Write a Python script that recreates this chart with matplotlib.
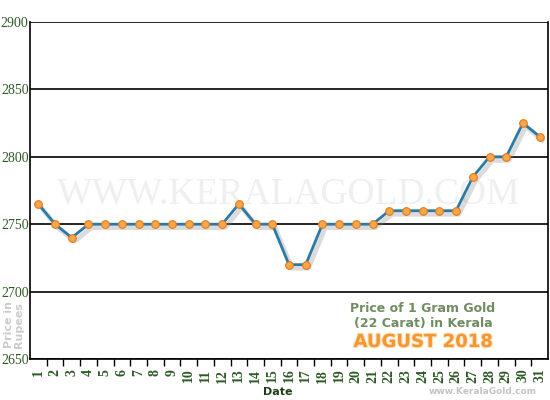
import matplotlib.pyplot as plt
import matplotlib.patheffects as pe

# Kerala gold rate, August 2018 (22 carat, 1 gram)
days = list(range(1, 32))
prices = [2765, 2750, 2740, 2750, 2750, 2750, 2750, 2750, 2750, 2750,
          2750, 2750, 2765, 2750, 2750, 2720, 2720, 2750, 2750, 2750,
          2750, 2760, 2760, 2760, 2760, 2760, 2785, 2800, 2800, 2825,
          2815]
y_ticks = [2650, 2700, 2750, 2800, 2850, 2900]

green = '#2e5b26'
fig = plt.figure(figsize=(5.5, 4), dpi=100)
ax = fig.add_axes([30 / 550, 41 / 400, 518 / 550, 337 / 400])

# watermark
ax.text(0.5, 0.49, 'WWW.KERALAGOLD.COM', transform=ax.transAxes,
        ha='center', va='center', fontsize=27, color='#efefef',
        family='Liberation Serif', zorder=0)

shadow = [pe.SimpleLineShadow(offset=(2, -2.5), shadow_color='#888888', alpha=0.3, linewidth=3.5),
          pe.Normal()]
ax.plot(days, prices, color='#2b7aa6', lw=2, zorder=3, path_effects=shadow)
ax.plot(days, prices, ls='none', marker='o', ms=5.5, mfc='#f9a54a',
        mec='#e07b1a', mew=0.8, zorder=4)

ax.set_xlim(0.5, 31.5)
ax.set_ylim(2650, 2900)
ax.set_yticks(y_ticks)
ax.set_yticklabels([str(v) for v in y_ticks], family='Liberation Serif',
                   fontsize=10, color=green)
ax.yaxis.grid(True, color='black', lw=1.2)
ax.set_axisbelow(True)
ax.tick_params(axis='y', length=0, pad=1)

ax.set_xticks(days)
ax.set_xticklabels([str(d) for d in days], rotation=90, family='Liberation Serif',
                   fontsize=10, color=green, fontweight='bold')
ax.set_xticks([d + 0.5 for d in days[:-1]], minor=True)
ax.tick_params(axis='x', which='major', length=0, pad=7)
ax.tick_params(axis='x', which='minor', length=5, width=1, color='black')

ax.spines['top'].set_visible(False)
for s in ['left', 'bottom', 'right']:
    ax.spines[s].set_linewidth(1.2)

fig.text(278 / 550, 1 - 392 / 400, 'Date', ha='center', va='center',
         fontsize=8, fontweight='bold', color='#1f3d1a')
fig.text(14 / 550, 1 - 325 / 400, 'Price in\nRupees', ha='center', va='center',
         rotation=90, fontsize=8, fontweight='bold', color='#cccccc',
         linespacing=1.1)
fig.text(483 / 550, 1 - 392 / 400, 'www.KeralaGold.com', ha='center', va='center',
         fontsize=6.5, fontweight='bold', color='#c4c4c4')

fig.text(423 / 550, 1 - 308 / 400, 'Price of 1 Gram Gold', ha='center', va='center',
         fontsize=9, fontweight='bold', color='#6f8c63')
fig.text(423 / 550, 1 - 323 / 400, '(22 Carat) in Kerala', ha='center', va='center',
         fontsize=9, fontweight='bold', color='#6f8c63')
fig.text(423 / 550, 1 - 342 / 400, 'AUGUST 2018', ha='center', va='center',
         fontsize=13, fontweight='bold', color='#f7962e',
         path_effects=[pe.withStroke(linewidth=1.5, foreground='#fde0bd')])

fig.savefig('out.png', dpi=100)
